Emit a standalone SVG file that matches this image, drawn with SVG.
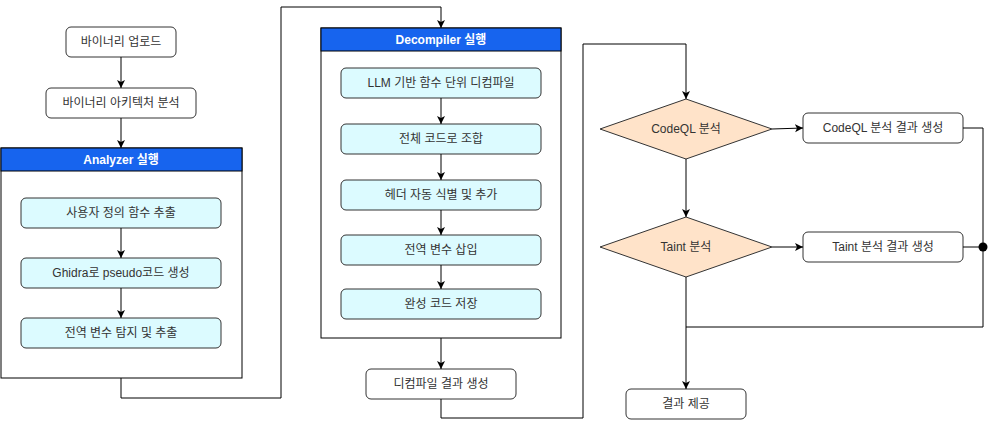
<svg xmlns="http://www.w3.org/2000/svg" width="992" height="428" viewBox="0 0 992 428">
<defs>
<marker id="arr" markerWidth="10" markerHeight="10" refX="8" refY="4" orient="auto" markerUnits="userSpaceOnUse">
<path d="M0,0 L8,4 L0,8 L2,4 Z" fill="#000"/>
</marker>
<style>
text{font-family:"Liberation Sans","Noto Sans CJK KR",Arial,sans-serif;font-size:12px;fill:#333;text-anchor:middle;dominant-baseline:central}
.box{fill:#fff;stroke:#333;stroke-width:1}
.inner{fill:#dcfbff;stroke:#333;stroke-width:1}
.cont{fill:#fff;stroke:#000;stroke-width:1}
.hdr{fill:#1764ee;stroke:#000;stroke-width:1}
.htxt{fill:#fff;font-weight:bold}
.dia{fill:#ffe3c9;stroke:#333;stroke-width:1}
.ln{fill:none;stroke:#000;stroke-width:1}
.la{fill:none;stroke:#000;stroke-width:1;marker-end:url(#arr)}
</style>
</defs>
<rect width="992" height="428" fill="#fff"/>

<g id="n-upload"><rect class="box" x="66" y="27" width="110" height="30" rx="5"/><text x="121" y="42">바이너리 업로드</text></g>
<g id="n-arch"><rect class="box" x="46" y="88" width="150" height="30" rx="5"/><text x="121" y="103">바이너리 아키텍처 분석</text></g>

<g id="c-analyzer">
<rect class="cont" x="1" y="148" width="241" height="230"/>
<rect class="hdr" x="1" y="148" width="241" height="23"/>
<text class="htxt" x="121" y="159.5">Analyzer 실행</text>
</g>
<g id="n-a1"><rect class="inner" x="21" y="198" width="200" height="30" rx="5"/><text x="121" y="213">사용자 정의 함수 추출</text></g>
<g id="n-a2"><rect class="inner" x="21" y="258" width="200" height="30" rx="5"/><text x="121" y="273">Ghidra로 pseudo코드 생성</text></g>
<g id="n-a3"><rect class="inner" x="21" y="318" width="200" height="30" rx="5"/><text x="121" y="333">전역 변수 탐지 및 추출</text></g>

<g id="c-decompiler">
<rect class="cont" x="321" y="28" width="240" height="310"/>
<rect class="hdr" x="321" y="28" width="240" height="23"/>
<text class="htxt" x="441" y="39.5">Decompiler 실행</text>
</g>
<g id="n-d1"><rect class="inner" x="341" y="68" width="200" height="30" rx="5"/><text x="441" y="83">LLM 기반 함수 단위 디컴파일</text></g>
<g id="n-d2"><rect class="inner" x="341" y="124" width="200" height="30" rx="5"/><text x="441" y="139">전체 코드로 조합</text></g>
<g id="n-d3"><rect class="inner" x="341" y="180" width="200" height="30" rx="5"/><text x="441" y="195">헤더 자동 식별 및 추가</text></g>
<g id="n-d4"><rect class="inner" x="341" y="235" width="200" height="30" rx="5"/><text x="441" y="250">전역 변수 삽입</text></g>
<g id="n-d5"><rect class="inner" x="341" y="289" width="200" height="30" rx="5"/><text x="441" y="304">완성 코드 저장</text></g>
<g id="n-dres"><rect class="box" x="366" y="369" width="150" height="30" rx="5"/><text x="441" y="384">디컴파일 결과 생성</text></g>

<g id="n-codeql"><path class="dia" d="M686,99 L772,129 L686,159 L600,129 Z"/><text x="686" y="129">CodeQL 분석</text></g>
<g id="n-codeqlres"><rect class="box" x="803" y="113" width="160" height="30" rx="5"/><text x="883" y="128">CodeQL 분석 결과 생성</text></g>
<g id="n-taint"><path class="dia" d="M686,217 L772,247 L686,277 L600,247 Z"/><text x="686" y="247">Taint 분석</text></g>
<g id="n-taintres"><rect class="box" x="803" y="232" width="160" height="30" rx="5"/><text x="883" y="247">Taint 분석 결과 생성</text></g>
<g id="n-final"><rect class="box" x="626" y="389" width="120" height="30" rx="5"/><text x="686" y="404">결과 제공</text></g>

<g id="connectors">
<path class="la" d="M121,57 L121,88"/>
<path class="la" d="M121,118 L121,148"/>
<path class="la" d="M121,228 L121,258"/>
<path class="la" d="M121,288 L121,318"/>
<path class="la" d="M121,378 L121,398 L281,398 L281,7 L441,7 L441,28"/>
<path class="la" d="M441,98 L441,124"/>
<path class="la" d="M441,154 L441,180"/>
<path class="la" d="M441,210 L441,235"/>
<path class="la" d="M441,265 L441,289"/>
<path class="la" d="M441,338 L441,369"/>
<path class="la" d="M441,399 L441,418 L583,418 L583,44 L686,44 L686,99"/>
<path class="la" d="M772,129 L803,128"/>
<path class="la" d="M686,159 L686,217"/>
<path class="la" d="M772,247 L803,247"/>
<path class="ln" d="M963,128 L983,128 L983,327 L686,327"/>
<path class="ln" d="M963,247 L983,247"/>
<circle cx="983" cy="247" r="4.5" fill="#000"/>
<path class="la" d="M686,277 L686,389"/>
</g>
</svg>
